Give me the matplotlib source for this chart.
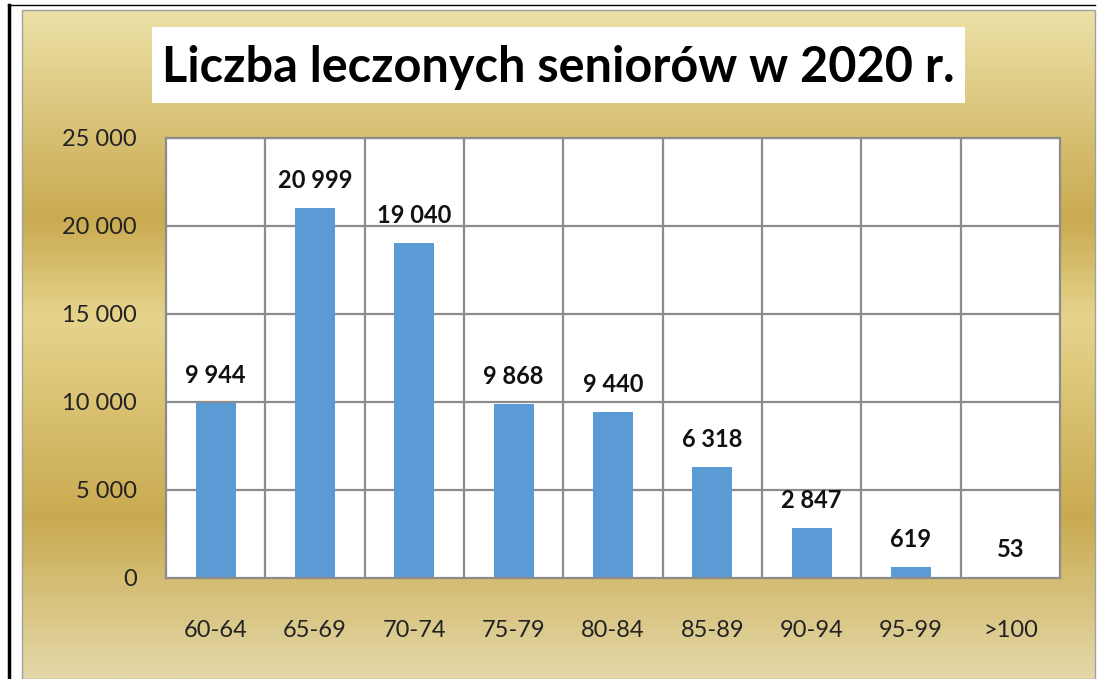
import matplotlib.pyplot as plt
import numpy as np
from matplotlib.colors import LinearSegmentedColormap
from matplotlib.patches import Rectangle

# chart data
age_groups = ['60-64', '65-69', '70-74', '75-79', '80-84',
              '85-89', '90-94', '95-99', '>100']
patients = [9944, 20999, 19040, 9868, 9440, 6318, 2847, 619, 53]
y_ticks = [0, 5000, 10000, 15000, 20000, 25000]
title = 'Liczba leczonych seniorów w 2020 r.'

W, H = 1097, 679
FONT = 'Lato'


def fmt(v):
    # polish style thousands separator
    return f'{v:,}'.replace(',', ' ') if v >= 1000 else str(v)


fig = plt.figure(figsize=(W / 100, H / 100), dpi=100)
fig.patch.set_facecolor('white')

# background in pixel coordinates
bg = fig.add_axes([0, 0, 1, 1])
bg.set_xlim(0, W)
bg.set_ylim(H, 0)
bg.axis('off')

gold = LinearSegmentedColormap.from_list('gold', [
    (0.00, '#ece0a6'), (0.31, '#c9aa50'), (0.46, '#e6d48c'),
    (0.76, '#c9aa50'), (1.00, '#e4d8a8')])
grad = np.linspace(0, 1, 300).reshape(-1, 1)
bg.imshow(grad, cmap=gold, aspect='auto',
          extent=(22, 1095, 679, 10), zorder=0)
bg.add_patch(Rectangle((22, 10), 1073, 669, fill=False,
                       edgecolor='#a0a0a0', lw=1, zorder=1))
bg.plot([9, 9], [5, 679], color='black', lw=2.5, zorder=2)
bg.plot([8, 1095], [5, 5], color='black', lw=1, zorder=2)

# title box
bg.add_patch(Rectangle((152, 27), 813, 76, facecolor='white',
                       edgecolor='none', zorder=1))
bg.text(558, 67, title, fontsize=35, fontweight='bold', family=FONT,
        ha='center', va='center', color='black', zorder=3)

# plot area: x 166..1060, y 138..578
ax = fig.add_axes([166 / W, 1 - 578 / H, (1060 - 166) / W, (578 - 138) / H])
ax.set_facecolor('white')
x = np.arange(len(age_groups))
ax.bar(x, patients, width=0.4, color='#5b9bd5', zorder=2)
ax.set_xlim(-0.5, len(age_groups) - 0.5)
ax.set_ylim(0, 25000)

ax.set_yticks(y_ticks)
ax.set_yticklabels([fmt(v) for v in y_ticks], family=FONT, fontsize=17,
                   color='#222222')
ax.set_xticks(x)
ax.set_xticklabels(age_groups, family=FONT, fontsize=17, color='#222222')
ax.tick_params(length=0)
ax.tick_params(axis='y', pad=21)
ax.tick_params(axis='x', pad=30)

for b in np.arange(0.5, len(age_groups) - 0.5):
    ax.axvline(b, color='#8c8c8c', lw=1.6, zorder=1)
for t in y_ticks[1:]:
    ax.axhline(t, color='#8c8c8c', lw=1.6, zorder=1)
for s in ax.spines.values():
    s.set_color('#8c8c8c')
    s.set_linewidth(1.6)

for xi, v in zip(x, patients):
    ax.annotate(fmt(v), (xi, v), xytext=(0, 20), textcoords='offset points',
                ha='center', va='center', family=FONT, fontsize=17,
                fontweight='bold', color='#111111', zorder=3)

fig.savefig('out.png', dpi=100)
